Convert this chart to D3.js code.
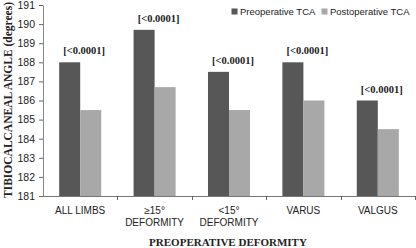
<!DOCTYPE html>
<html><head><meta charset="utf-8">
<script src="https://cdn.jsdelivr.net/npm/d3@7"></script>
<style>body{margin:0;background:#fff}svg{display:block}</style>
</head><body>
<script>
const categories = [["ALL LIMBS"], ["\u226515\u00b0", "DEFORMITY"], ["<15\u00b0", "DEFORMITY"], ["VARUS"], ["VALGUS"]];
const seriesNames = ["Preoperative TCA", "Postoperative TCA"];
const preoperative = [188.0, 189.7, 187.5, 188.0, 186.0];
const postoperative = [185.5, 186.7, 185.5, 186.0, 184.5];
const pLabels = ["[<0.0001]", "[<0.0001]", "[<0.0001]", "[<0.0001]", "[<0.0001]"];
const yTicks = [181, 182, 183, 184, 185, 186, 187, 188, 189, 190, 191];
const colors = ["#575757", "#a8a8a8"];

(function () {
const W = 416, H = 248;
const svg = d3.select("body").append("svg").attr("width", W).attr("height", H);
const mLeft = 43, mRight = 415, mTop = 5, mBottom = 196;
const keys = categories.map((c, i) => i);
const x0 = d3.scaleBand().domain(keys).range([mLeft, mRight]).paddingInner(0.435).paddingOuter(0.2175);
const x1 = d3.scaleBand().domain([0, 1]).range([0, x0.bandwidth()]);
const y = d3.scaleLinear().domain([181, 191]).range([mBottom, mTop]);
const step = x0.step();

// y axis
const ya = svg.append("g").attr("transform", `translate(${mLeft},0)`)
  .call(d3.axisLeft(y).tickValues(yTicks).tickFormat(d3.format("d")).tickSize(4).tickSizeOuter(0));
ya.select(".domain").attr("stroke", "#888");
ya.selectAll(".tick line").attr("stroke", "#666");
ya.selectAll("text").attr("font-family", "Liberation Sans, Arial, sans-serif").attr("font-size", 10.5).attr("fill", "#222").attr("x", -8);

// bars
const data = keys.map(i => [preoperative[i], postoperative[i]]);
const g = svg.append("g");
keys.forEach(i => {
  data[i].forEach((v, s) => {
    g.append("rect")
      .attr("x", x0(i) + x1(s)).attr("width", x1.bandwidth())
      .attr("y", y(v)).attr("height", y(181) - y(v))
      .attr("fill", colors[s]);
  });
  svg.append("text")
    .attr("x", x0(i) + x0.bandwidth() / 2 + 4)
    .attr("y", y(preoperative[i]) - 8)
    .attr("text-anchor", "middle")
    .attr("font-family", "Liberation Serif, Times New Roman, serif")
    .attr("font-weight", "bold").attr("font-size", 10.5).attr("fill", "#222")
    .text(pLabels[i]);
});

// x axis
svg.append("line").attr("x1", mLeft).attr("x2", mRight).attr("y1", mBottom + 0.5).attr("y2", mBottom + 0.5).attr("stroke", "#777");
d3.range(1, categories.length + 1).forEach(k => {
  const xx = Math.round(mLeft + step * k) + 0.5;
  svg.append("line").attr("x1", xx).attr("x2", xx).attr("y1", mBottom).attr("y2", mBottom + 4).attr("stroke", "#666");
});
keys.forEach(i => {
  const t = svg.append("text")
    .attr("x", x0(i) + x0.bandwidth() / 2)
    .attr("y", 214)
    .attr("text-anchor", "middle")
    .attr("font-family", "Liberation Sans, Arial, sans-serif")
    .attr("font-size", 10).attr("fill", "#222");
  categories[i].forEach((line, j) => {
    t.append("tspan").attr("x", x0(i) + x0.bandwidth() / 2).attr("dy", j === 0 ? 0 : 12).text(line);
  });
});

// axis titles
svg.append("text")
  .attr("x", 228).attr("y", 246)
  .attr("text-anchor", "middle")
  .attr("font-family", "Liberation Serif, Times New Roman, serif")
  .attr("font-weight", "bold").attr("font-size", 11).attr("fill", "#222")
  .text("PREOPERATIVE DEFORMITY");
svg.append("text")
  .attr("transform", "translate(12,100) rotate(-90)")
  .attr("text-anchor", "middle")
  .attr("font-family", "Liberation Serif, Times New Roman, serif")
  .attr("font-weight", "bold").attr("font-size", 11.5).attr("fill", "#222")
  .text("TIBIOCALCANEAL ANGLE (degrees)");

// legend
const lx = [231.5, 321.5];
seriesNames.forEach((n, s) => {
  svg.append("rect").attr("x", lx[s]).attr("y", 8.5).attr("width", 6).attr("height", 6).attr("fill", colors[s]);
  svg.append("text").attr("x", lx[s] + 8.5).attr("y", 15)
    .attr("font-family", "Liberation Sans, Arial, sans-serif")
    .attr("font-size", 9.5).attr("fill", "#222").text(n);
});
})();
</script>
</body></html>
